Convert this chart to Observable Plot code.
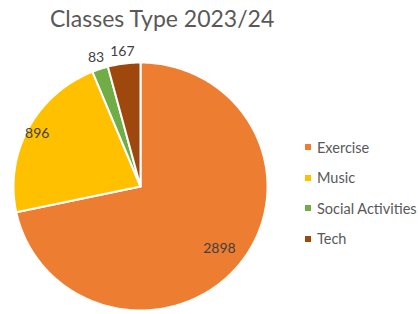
<!DOCTYPE html>
<html>
<head>
<meta charset="utf-8">
<script src="https://cdn.jsdelivr.net/npm/d3@7"></script>
<script src="https://cdn.jsdelivr.net/npm/@observablehq/plot@0.6"></script>
<style>
  html, body { margin: 0; padding: 0; background: #fff; }
  #wrap { position: relative; width: 418px; height: 314px; overflow: hidden; font-family: Lato, "Open Sans", sans-serif; }
  #title { position: absolute; left: 50px; top: 7px; font-size: 23px; line-height: 1; color: #595959; white-space: nowrap; }
  #chart { position: absolute; left: 0; top: 30px; }
  #legend { position: absolute; left: 305px; top: 132px; font-size: 14.5px; color: #595959; }
  .item { display: flex; align-items: center; height: 30.5px; }
  .sw { width: 6px; height: 6px; margin-right: 6px; }
</style>
</head>
<body>
<div id="wrap">
  <div id="title">Classes Type 2023/24</div>
  <div id="chart"></div>
  <div id="legend"></div>
</div>
<script>
const categories = ["Exercise", "Music", "Social Activities", "Tech"];
const values = [2898, 896, 83, 167];
const colors = ["#ED7D31", "#FFC000", "#70AD47", "#9E480E"];

const pie = d3.pie().sort(null).value(d => d.value);
const arcs = pie(categories.map((c, i) => ({cat: c, value: values[i]})));
const total = d3.sum(values);

// polygon vertices for each slice in unit coordinates (angle clockwise from top)
const pts = [];
for (const a of arcs) {
  const n = Math.max(2, Math.ceil((a.endAngle - a.startAngle) / (Math.PI / 180)));
  pts.push({cat: a.data.cat, x: 0, y: 0});
  for (let k = 0; k <= n; k++) {
    const t = a.startAngle + (a.endAngle - a.startAngle) * k / n;
    pts.push({cat: a.data.cat, x: Math.sin(t), y: Math.cos(t)});
  }
}
const labels = arcs.map(a => {
  const m = (a.startAngle + a.endAngle) / 2;
  const share = a.data.value / total;
  const r = share > 0.5 ? 0.8 : share > 0.1 ? 0.92 : 1.1;
  return {cat: a.data.cat, value: a.data.value, x: r * Math.sin(m), y: r * Math.cos(m)};
});

const chart = Plot.plot({
  width: 418,
  height: 284,
  margin: 0,
  x: {domain: [-1, 1], range: [13, 267], axis: null},
  y: {domain: [-1, 1], range: [280, 32], axis: null},
  color: {domain: categories, range: colors},
  style: {fontFamily: "Lato, 'Open Sans', sans-serif", background: "transparent"},
  marks: [
    Plot.line(pts, {x: "x", y: "y", z: "cat", fill: "cat", stroke: "white", strokeWidth: 2, curve: "linear-closed"}),
    Plot.text(labels, {x: "x", y: "y", text: d => String(d.value), fill: "#404040", fontSize: 14})
  ]
});
document.getElementById("chart").appendChild(chart);

const lg = document.getElementById("legend");
categories.forEach((c, i) => {
  const it = document.createElement("div");
  it.className = "item";
  it.innerHTML = `<span class="sw" style="background:${colors[i]}"></span><span>${c}</span>`;
  lg.appendChild(it);
});
</script>
</body>
</html>
